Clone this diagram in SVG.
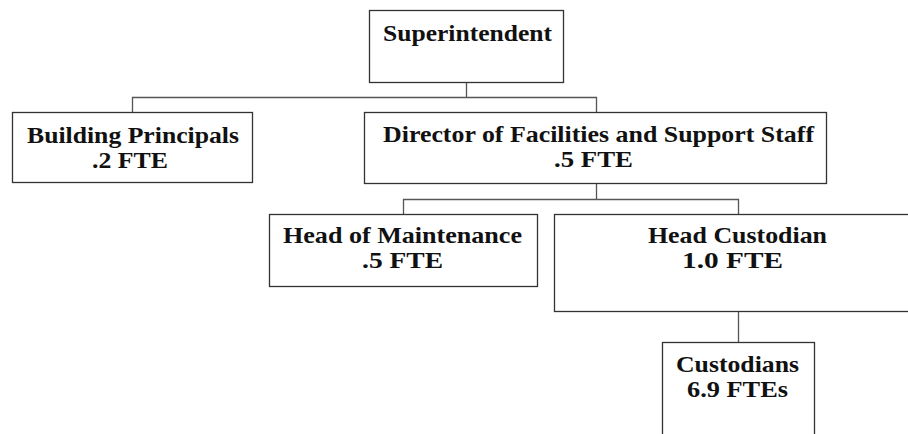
<svg xmlns="http://www.w3.org/2000/svg" width="908" height="434" viewBox="0 0 908 434">
<style>
.box{fill:#fff;stroke:#333;stroke-width:1.3}
.ln{fill:none;stroke:#555;stroke-width:1.3}
text{font-family:"Liberation Serif","Times New Roman",serif;font-weight:bold;font-size:22.5px;fill:#111;text-anchor:middle;lengthAdjust:spacingAndGlyphs}
</style>
<rect width="908" height="434" fill="#fff"/>
<g id="connectors">
<path class="ln" d="M466.5,82 V97.5 M132.5,112 V97.5 H596.5 V112 M596.5,183 V199.5 M403.5,214 V199.5 H738.5 V214 M738.5,311 V342"/>
</g>
<g id="superintendent">
<rect class="box" x="369.5" y="10.5" width="194" height="72"/>
<text x="467.5" y="41" textLength="169" lengthAdjust="spacingAndGlyphs">Superintendent</text>
</g>
<g id="building-principals">
<rect class="box" x="12.5" y="112.5" width="240" height="70"/>
<text x="133" y="142.5" textLength="212" lengthAdjust="spacingAndGlyphs">Building Principals</text>
<text x="130" y="167.5" textLength="76" lengthAdjust="spacingAndGlyphs">.2 FTE</text>
</g>
<g id="director">
<rect class="box" x="364.5" y="112.5" width="462" height="71"/>
<text x="598.5" y="142" textLength="431" lengthAdjust="spacingAndGlyphs">Director of Facilities and Support Staff</text>
<text x="593.5" y="167" textLength="79" lengthAdjust="spacingAndGlyphs">.5 FTE</text>
</g>
<g id="head-maintenance">
<rect class="box" x="269.5" y="214.5" width="268" height="72"/>
<text x="402.5" y="243" textLength="239" lengthAdjust="spacingAndGlyphs">Head of Maintenance</text>
<text x="402.5" y="268" textLength="81" lengthAdjust="spacingAndGlyphs">.5 FTE</text>
</g>
<g id="head-custodian">
<rect class="box" x="554.5" y="214.5" width="370" height="97"/>
<text x="737.5" y="243" textLength="179" lengthAdjust="spacingAndGlyphs">Head Custodian</text>
<text x="732.5" y="268" textLength="101" lengthAdjust="spacingAndGlyphs">1.0 FTE</text>
</g>
<g id="custodians">
<rect class="box" x="662.5" y="342.5" width="152" height="110"/>
<text x="737.5" y="372" textLength="123" lengthAdjust="spacingAndGlyphs">Custodians</text>
<text x="737.5" y="397" textLength="101" lengthAdjust="spacingAndGlyphs">6.9 FTEs</text>
</g>
</svg>
